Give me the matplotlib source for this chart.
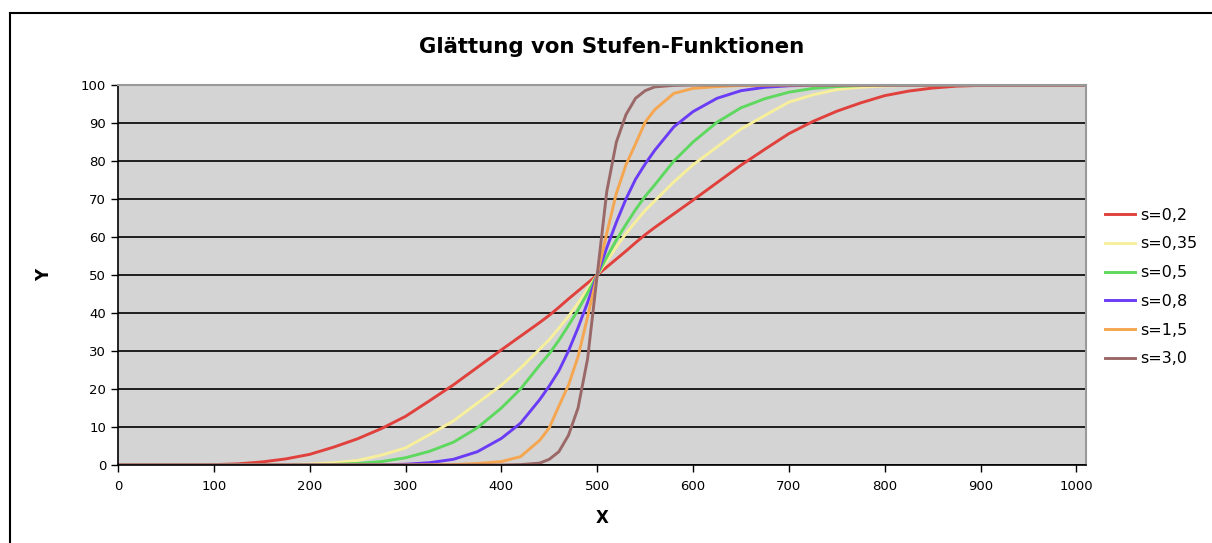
import matplotlib.pyplot as plt
from matplotlib.lines import Line2D

# x positions of the sampled points
xValues = [0, 50, 100, 125, 150, 175, 200, 225, 250, 275, 300, 325, 350, 375, 400,
           420, 440, 450, 460, 470, 480, 490, 500,
           510, 520, 530, 540, 550, 560, 580, 600, 625, 650, 675, 700, 725, 750,
           775, 800, 825, 850, 875, 900, 950, 1000, 1010]

s02 = [0, 0, 0.1, 0.3, 0.8, 1.6, 2.8, 4.7, 6.9, 9.6, 12.8, 16.9, 21.1, 25.7, 30.3,
       33.9, 37.5, 39.4, 41.5, 43.7, 45.8, 47.9, 50,
       52.1, 54.2, 56.3, 58.5, 60.6, 62.5, 66.1, 69.7, 74.3, 78.9, 83.1, 87.2, 90.4, 93.1,
       95.3, 97.2, 98.4, 99.2, 99.7, 99.9, 100, 100, 100]
s035 = [0, 0, 0, 0, 0, 0.1, 0.25, 0.6, 1.2, 2.6, 4.5, 8.0, 11.6, 16.3, 21.0,
        25.5, 30.5, 33.0, 36.0, 39.1, 42.6, 46.3, 50,
        53.7, 57.4, 60.9, 64.0, 67.0, 69.5, 74.5, 79.0, 83.7, 88.4, 92.0, 95.5, 97.4, 98.8,
        99.4, 99.75, 99.9, 100, 100, 100, 100, 100, 100]
s05 = [0, 0, 0, 0, 0, 0, 0.05, 0.15, 0.4, 0.9, 1.9, 3.6, 6.0, 9.8, 15.0,
       20.0, 26.3, 29.3, 32.8, 36.7, 40.8, 45.3, 50,
       54.7, 59.2, 63.3, 67.2, 70.7, 73.7, 80.0, 85.0, 90.2, 94.0, 96.4, 98.1, 99.1, 99.6,
       99.85, 99.95, 100, 100, 100, 100, 100, 100, 100]
s08 = [0, 0, 0, 0, 0, 0, 0, 0, 0, 0.05, 0.2, 0.6, 1.5, 3.5, 7.0,
       11.0, 17.2, 20.8, 24.8, 30.0, 36.1, 42.8, 50,
       57.2, 63.9, 70.0, 75.2, 79.2, 82.8, 89.0, 93.0, 96.5, 98.5, 99.4, 99.8, 99.95, 100,
       100, 100, 100, 100, 100, 100, 100, 100, 100]
s15 = [0, 0, 0, 0, 0, 0, 0, 0, 0, 0, 0, 0.05, 0.1, 0.4, 0.9,
       2.2, 6.5, 9.8, 15.5, 21.0, 28.5, 39.0, 50,
       61.0, 71.5, 79.0, 84.5, 90.2, 93.5, 97.8, 99.1, 99.6, 99.9, 99.95, 100, 100, 100,
       100, 100, 100, 100, 100, 100, 100, 100, 100]
s30 = [0, 0, 0, 0, 0, 0, 0, 0, 0, 0, 0, 0, 0, 0, 0,
       0.1, 0.5, 1.5, 3.5, 7.8, 15.0, 28.0, 50,
       72.0, 85.0, 92.2, 96.5, 98.5, 99.5, 99.9, 100, 100, 100, 100, 100, 100, 100,
       100, 100, 100, 100, 100, 100, 100, 100, 100]

seriesLabels = ['s=0,2', 's=0,35', 's=0,5', 's=0,8', 's=1,5', 's=3,0']
seriesValues = [s02, s035, s05, s08, s15, s30]
seriesColors = ['#e0413c', '#f7ef9c', '#5ed85e', '#6b3cf5', '#f5a650', '#9b6868']

fig = plt.figure(figsize=(12.12, 5.43), dpi=100)
ax = fig.add_axes([118 / 1212, 78 / 543, 968 / 1212, 380 / 543])
ax.set_facecolor('#d4d4d4')

for values, label, color in zip(seriesValues, seriesLabels, seriesColors):
    ax.plot(xValues, values, color=color, linewidth=2.1, label=label,
            solid_joinstyle='round')

ax.set_xlim(0, 1010)
ax.set_ylim(0, 100)
ax.set_xticks(range(0, 1001, 100))
ax.set_yticks(range(0, 101, 10))
ax.tick_params(labelsize=9.5, length=5, width=1, direction='out', colors='black')
ax.tick_params(axis='x', pad=6)
ax.grid(axis='y', color='black', linewidth=1.2)
ax.set_axisbelow(True)

for side in ['top', 'right']:
    ax.spines[side].set_color('#999999')
    ax.spines[side].set_linewidth(1.5)
for side in ['left', 'bottom']:
    ax.spines[side].set_color('black')
    ax.spines[side].set_linewidth(1.2)

ax.set_xlabel('X', fontsize=12, fontweight='bold', labelpad=11)
ax.set_ylabel('Y', fontsize=12, fontweight='bold', labelpad=20)

fig.text(0.505, 1 - 47 / 543, 'Glättung von Stufen-Funktionen', ha='center', va='center',
         fontsize=15.3, fontweight='bold')

fig.legend(loc='center left', bbox_to_anchor=(1091 / 1212, 1 - 287 / 543),
           frameon=False, fontsize=11.5, handlelength=1.85, labelspacing=0.86,
           handletextpad=0.35)

# outer chart frame
fig.add_artist(Line2D([10 / 1212, 1], [1 - 13 / 543, 1 - 13 / 543], color='black', linewidth=1.5))
fig.add_artist(Line2D([10 / 1212, 10 / 1212], [0, 1 - 13 / 543], color='black', linewidth=1.5))

fig.savefig('out.png', dpi=100)
